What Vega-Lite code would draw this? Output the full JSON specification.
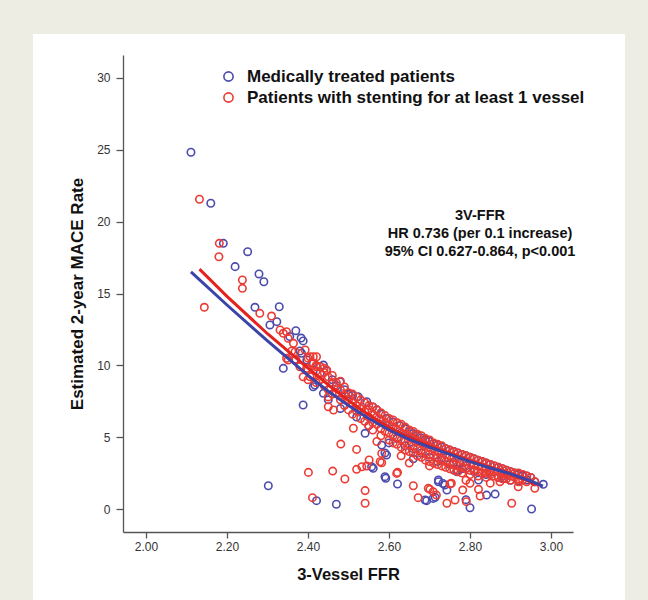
{
"$schema": "https://vega.github.io/schema/vega-lite/v6.json",
"width": 592, "height": 566,
"autosize": "none",
"padding": {"left": 33, "top": 34, "right": 23, "bottom": 0},
"background": "#EDEDE3",
"config": {
  "font": "Liberation Sans",
  "view": {"stroke": null, "fill": "#FFFFFF"},
  "axis": {"grid": false, "domainColor": "#555555", "tickColor": "#555555", "labelColor": "#333333", "labelFontSize": 12, "titleFontWeight": "bold", "titleColor": "#111111", "domainWidth": 1.3, "tickWidth": 1.3}
},
"datasets": {
"fitM": [{"x":2.111,"y":16.5},{"x":2.2,"y":14.2},{"x":2.3,"y":11.7},{"x":2.4,"y":9.3},{"x":2.45,"y":8.2},{"x":2.5,"y":7.2},{"x":2.55,"y":6.3},{"x":2.6,"y":5.5},{"x":2.65,"y":4.85},{"x":2.7,"y":4.3},{"x":2.75,"y":3.8},{"x":2.8,"y":3.3},{"x":2.85,"y":2.85},{"x":2.9,"y":2.45},{"x":2.95,"y":1.95},{"x":2.98,"y":1.6}],
"fitS": [{"x":2.132,"y":16.7},{"x":2.2,"y":14.8},{"x":2.3,"y":12.2},{"x":2.4,"y":9.8},{"x":2.45,"y":8.65},{"x":2.5,"y":7.55},{"x":2.55,"y":6.55},{"x":2.6,"y":5.7},{"x":2.65,"y":4.98},{"x":2.7,"y":4.38},{"x":2.75,"y":3.85},{"x":2.8,"y":3.35},{"x":2.85,"y":2.9},{"x":2.9,"y":2.45},{"x":2.94,"y":2.0},{"x":2.96,"y":1.7}],
"pts": [
{"x":2.111,"y":24.83,"g":"M"},{"x":2.160,"y":21.28,"g":"M"},{"x":2.191,"y":18.49,"g":"M"},{"x":2.251,"y":17.91,"g":"M"},{"x":2.220,"y":16.87,"g":"M"},{"x":2.279,"y":16.36,"g":"M"},{"x":2.291,"y":15.82,"g":"M"},{"x":2.269,"y":14.04,"g":"M"},{"x":2.329,"y":14.08,"g":"M"},{"x":2.306,"y":12.81,"g":"M"},{"x":2.323,"y":13.04,"g":"M"},{"x":2.370,"y":12.41,"g":"M"},{"x":2.383,"y":11.90,"g":"M"},{"x":2.388,"y":11.70,"g":"M"},{"x":2.339,"y":9.79,"g":"M"},{"x":2.367,"y":10.40,"g":"M"},{"x":2.380,"y":11.00,"g":"M"},{"x":2.438,"y":10.02,"g":"M"},{"x":2.417,"y":8.63,"g":"M"},{"x":2.438,"y":8.05,"g":"M"},{"x":2.430,"y":9.45,"g":"M"},{"x":2.384,"y":10.84,"g":"M"},{"x":2.397,"y":10.37,"g":"M"},{"x":2.413,"y":10.14,"g":"M"},{"x":2.430,"y":9.90,"g":"M"},{"x":2.446,"y":9.67,"g":"M"},{"x":2.388,"y":7.24,"g":"M"},{"x":2.413,"y":8.51,"g":"M"},{"x":2.479,"y":8.86,"g":"M"},{"x":2.355,"y":12.0,"g":"M"},{"x":2.302,"y":1.62,"g":"M"},{"x":2.421,"y":0.58,"g":"M"},{"x":2.470,"y":0.33,"g":"M"},
{"x":2.46,"y":9.0,"g":"M"},{"x":2.47,"y":8.6,"g":"M"},{"x":2.49,"y":8.3,"g":"M"},{"x":2.50,"y":8.0,"g":"M"},{"x":2.51,"y":7.9,"g":"M"},{"x":2.524,"y":7.82,"g":"M"},{"x":2.545,"y":7.47,"g":"M"},{"x":2.56,"y":7.1,"g":"M"},{"x":2.57,"y":6.9,"g":"M"},{"x":2.58,"y":6.6,"g":"M"},{"x":2.594,"y":6.3,"g":"M"},{"x":2.61,"y":6.05,"g":"M"},{"x":2.627,"y":5.8,"g":"M"},{"x":2.64,"y":5.6,"g":"M"},{"x":2.65,"y":5.4,"g":"M"},{"x":2.66,"y":5.25,"g":"M"},{"x":2.67,"y":5.1,"g":"M"},{"x":2.68,"y":4.95,"g":"M"},{"x":2.69,"y":4.8,"g":"M"},{"x":2.70,"y":4.7,"g":"M"},{"x":2.71,"y":4.55,"g":"M"},{"x":2.72,"y":4.45,"g":"M"},{"x":2.73,"y":4.3,"g":"M"},{"x":2.74,"y":4.2,"g":"M"},{"x":2.75,"y":4.1,"g":"M"},{"x":2.76,"y":4.0,"g":"M"},{"x":2.77,"y":3.9,"g":"M"},{"x":2.78,"y":3.8,"g":"M"},{"x":2.79,"y":3.7,"g":"M"},{"x":2.80,"y":3.6,"g":"M"},{"x":2.81,"y":3.5,"g":"M"},{"x":2.82,"y":3.4,"g":"M"},{"x":2.83,"y":3.3,"g":"M"},{"x":2.84,"y":3.2,"g":"M"},{"x":2.85,"y":3.1,"g":"M"},{"x":2.86,"y":3.0,"g":"M"},{"x":2.87,"y":2.9,"g":"M"},{"x":2.88,"y":2.8,"g":"M"},{"x":2.89,"y":2.7,"g":"M"},{"x":2.90,"y":2.6,"g":"M"},{"x":2.91,"y":2.5,"g":"M"},{"x":2.92,"y":2.4,"g":"M"},{"x":2.93,"y":2.37,"g":"M"},{"x":2.94,"y":2.3,"g":"M"},{"x":2.95,"y":2.2,"g":"M"},
{"x":2.45,"y":7.6,"g":"M"},{"x":2.48,"y":7.0,"g":"M"},{"x":2.52,"y":6.4,"g":"M"},{"x":2.55,"y":5.8,"g":"M"},{"x":2.60,"y":4.6,"g":"M"},{"x":2.62,"y":4.9,"g":"M"},{"x":2.64,"y":4.4,"g":"M"},{"x":2.66,"y":4.2,"g":"M"},{"x":2.68,"y":3.9,"g":"M"},{"x":2.70,"y":3.6,"g":"M"},{"x":2.72,"y":3.3,"g":"M"},{"x":2.73,"y":3.55,"g":"M"},{"x":2.75,"y":3.1,"g":"M"},{"x":2.76,"y":3.25,"g":"M"},{"x":2.78,"y":2.8,"g":"M"},{"x":2.79,"y":3.0,"g":"M"},{"x":2.81,"y":2.6,"g":"M"},{"x":2.84,"y":2.4,"g":"M"},{"x":2.85,"y":2.55,"g":"M"},{"x":2.87,"y":2.2,"g":"M"},{"x":2.88,"y":2.3,"g":"M"},{"x":2.90,"y":2.0,"g":"M"},{"x":2.92,"y":1.95,"g":"M"},{"x":2.94,"y":2.02,"g":"M"},{"x":2.96,"y":1.9,"g":"M"},
{"x":2.541,"y":5.27,"g":"M"},{"x":2.582,"y":4.45,"g":"M"},{"x":2.594,"y":3.76,"g":"M"},{"x":2.590,"y":3.90,"g":"M"},{"x":2.660,"y":3.50,"g":"M"},{"x":2.557,"y":2.94,"g":"M"},{"x":2.561,"y":2.83,"g":"M"},{"x":2.590,"y":2.25,"g":"M"},{"x":2.592,"y":2.14,"g":"M"},{"x":2.621,"y":1.74,"g":"M"},{"x":2.693,"y":0.58,"g":"M"},{"x":2.714,"y":0.81,"g":"M"},{"x":2.722,"y":1.90,"g":"M"},{"x":2.722,"y":2.02,"g":"M"},{"x":2.733,"y":1.78,"g":"M"},{"x":2.743,"y":1.32,"g":"M"},{"x":2.738,"y":1.67,"g":"M"},{"x":2.709,"y":0.74,"g":"M"},{"x":2.689,"y":0.63,"g":"M"},{"x":2.790,"y":0.65,"g":"M"},{"x":2.800,"y":0.09,"g":"M"},{"x":2.841,"y":0.97,"g":"M"},{"x":2.862,"y":1.04,"g":"M"},{"x":2.952,"y":0.00,"g":"M"},{"x":2.981,"y":1.72,"g":"M"},{"x":2.883,"y":2.14,"g":"M"},{"x":2.770,"y":2.70,"g":"M"},{"x":2.767,"y":2.60,"g":"M"},{"x":2.775,"y":3.18,"g":"M"},{"x":2.821,"y":2.02,"g":"M"},{"x":2.930,"y":2.30,"g":"M"},
{"x":2.132,"y":21.56,"g":"S"},{"x":2.181,"y":18.49,"g":"S"},{"x":2.180,"y":17.56,"g":"S"},{"x":2.238,"y":15.94,"g":"S"},{"x":2.238,"y":15.36,"g":"S"},{"x":2.144,"y":14.04,"g":"S"},{"x":2.281,"y":13.62,"g":"S"},{"x":2.310,"y":13.43,"g":"S"},{"x":2.331,"y":12.46,"g":"S"},{"x":2.347,"y":12.34,"g":"S"},{"x":2.339,"y":12.23,"g":"S"},{"x":2.351,"y":11.88,"g":"S"},{"x":2.364,"y":11.53,"g":"S"},{"x":2.368,"y":10.95,"g":"S"},{"x":2.393,"y":11.07,"g":"S"},{"x":2.347,"y":10.49,"g":"S"},{"x":2.351,"y":10.37,"g":"S"},{"x":2.405,"y":10.60,"g":"S"},{"x":2.413,"y":10.60,"g":"S"},{"x":2.421,"y":10.60,"g":"S"},{"x":2.421,"y":9.90,"g":"S"},{"x":2.397,"y":9.79,"g":"S"},{"x":2.405,"y":9.21,"g":"S"},{"x":2.388,"y":9.20,"g":"S"},{"x":2.446,"y":9.67,"g":"S"},{"x":2.36,"y":11.0,"g":"S"},{"x":2.37,"y":10.4,"g":"S"},{"x":2.38,"y":9.9,"g":"S"},
{"x":2.401,"y":2.55,"g":"S"},{"x":2.411,"y":0.79,"g":"S"},{"x":2.461,"y":2.64,"g":"S"},{"x":2.491,"y":2.09,"g":"S"},{"x":2.481,"y":4.52,"g":"S"},{"x":2.520,"y":4.15,"g":"S"},{"x":2.520,"y":2.76,"g":"S"},{"x":2.533,"y":2.94,"g":"S"},{"x":2.545,"y":2.99,"g":"S"},{"x":2.551,"y":3.41,"g":"S"},{"x":2.541,"y":1.28,"g":"S"},{"x":2.541,"y":0.40,"g":"S"},{"x":2.582,"y":3.87,"g":"S"},{"x":2.582,"y":3.22,"g":"S"},{"x":2.621,"y":2.55,"g":"S"},{"x":2.660,"y":1.62,"g":"S"},{"x":2.672,"y":0.79,"g":"S"},{"x":2.701,"y":1.37,"g":"S"},{"x":2.709,"y":1.20,"g":"S"},{"x":2.717,"y":0.97,"g":"S"},{"x":2.700,"y":3.00,"g":"S"},{"x":2.743,"y":0.40,"g":"S"},{"x":2.751,"y":1.74,"g":"S"},{"x":2.754,"y":1.79,"g":"S"},{"x":2.763,"y":0.63,"g":"S"},{"x":2.782,"y":1.32,"g":"S"},{"x":2.791,"y":0.51,"g":"S"},{"x":2.800,"y":1.79,"g":"S"},{"x":2.821,"y":1.37,"g":"S"},{"x":2.825,"y":0.90,"g":"S"},{"x":2.903,"y":0.40,"g":"S"},{"x":2.960,"y":1.44,"g":"S"},{"x":2.919,"y":1.55,"g":"S"},{"x":2.450,"y":7.12,"g":"S"},{"x":2.463,"y":6.89,"g":"S"},{"x":2.512,"y":5.62,"g":"S"},{"x":2.578,"y":3.29,"g":"S"},{"x":2.619,"y":2.48,"g":"S"},{"x":2.874,"y":1.90,"g":"S"},{"x":2.697,"y":1.44,"g":"S"},{"x":2.630,"y":3.70,"g":"S"},{"x":2.650,"y":3.20,"g":"S"},{"x":2.57,"y":4.7,"g":"S"},{"x":2.79,"y":2.0,"g":"S"},{"x":2.85,"y":1.8,"g":"S"},
{"x":2.40,"y":10.5,"g":"S"},{"x":2.40,"y":9.7,"g":"S"},{"x":2.40,"y":9.0,"g":"S"},{"x":2.41,"y":10.2,"g":"S"},{"x":2.41,"y":9.3,"g":"S"},{"x":2.42,"y":10.0,"g":"S"},{"x":2.42,"y":9.6,"g":"S"},{"x":2.42,"y":8.8,"g":"S"},{"x":2.43,"y":9.9,"g":"S"},{"x":2.43,"y":9.0,"g":"S"},{"x":2.44,"y":9.5,"g":"S"},{"x":2.44,"y":8.6,"g":"S"},{"x":2.44,"y":9.8,"g":"S"},{"x":2.45,"y":9.2,"g":"S"},{"x":2.45,"y":8.3,"g":"S"},{"x":2.45,"y":7.8,"g":"S"},{"x":2.46,"y":9.3,"g":"S"},{"x":2.46,"y":8.7,"g":"S"},{"x":2.46,"y":8.0,"g":"S"},{"x":2.47,"y":8.8,"g":"S"},{"x":2.47,"y":8.1,"g":"S"},{"x":2.48,"y":8.9,"g":"S"},{"x":2.48,"y":8.3,"g":"S"},{"x":2.48,"y":7.6,"g":"S"},{"x":2.49,"y":8.5,"g":"S"},{"x":2.49,"y":7.9,"g":"S"},{"x":2.49,"y":7.2,"g":"S"},{"x":2.50,"y":8.1,"g":"S"},{"x":2.50,"y":7.6,"g":"S"},{"x":2.50,"y":6.9,"g":"S"},{"x":2.51,"y":8.0,"g":"S"},{"x":2.51,"y":7.4,"g":"S"},{"x":2.51,"y":6.6,"g":"S"},{"x":2.52,"y":7.8,"g":"S"},{"x":2.52,"y":7.2,"g":"S"},{"x":2.52,"y":6.8,"g":"S"},{"x":2.53,"y":7.6,"g":"S"},{"x":2.53,"y":7.0,"g":"S"},{"x":2.53,"y":6.3,"g":"S"},{"x":2.54,"y":7.4,"g":"S"},{"x":2.54,"y":6.8,"g":"S"},{"x":2.54,"y":6.1,"g":"S"},{"x":2.55,"y":7.2,"g":"S"},{"x":2.55,"y":6.9,"g":"S"},{"x":2.55,"y":6.4,"g":"S"},{"x":2.55,"y":5.8,"g":"S"},{"x":2.56,"y":7.1,"g":"S"},{"x":2.56,"y":6.6,"g":"S"},{"x":2.56,"y":6.0,"g":"S"},{"x":2.56,"y":5.5,"g":"S"},{"x":2.57,"y":6.9,"g":"S"},{"x":2.57,"y":6.4,"g":"S"},{"x":2.57,"y":5.9,"g":"S"},{"x":2.58,"y":6.7,"g":"S"},{"x":2.58,"y":6.2,"g":"S"},{"x":2.58,"y":5.6,"g":"S"},{"x":2.58,"y":5.1,"g":"S"},{"x":2.59,"y":6.5,"g":"S"},{"x":2.59,"y":6.0,"g":"S"},{"x":2.59,"y":5.4,"g":"S"},{"x":2.60,"y":6.3,"g":"S"},{"x":2.60,"y":5.8,"g":"S"},{"x":2.60,"y":5.3,"g":"S"},{"x":2.60,"y":4.8,"g":"S"},{"x":2.61,"y":6.2,"g":"S"},{"x":2.61,"y":5.7,"g":"S"},{"x":2.61,"y":5.1,"g":"S"},{"x":2.61,"y":4.6,"g":"S"},{"x":2.62,"y":6.0,"g":"S"},{"x":2.62,"y":5.5,"g":"S"},{"x":2.62,"y":5.0,"g":"S"},{"x":2.62,"y":4.5,"g":"S"},{"x":2.63,"y":5.9,"g":"S"},{"x":2.63,"y":5.3,"g":"S"},{"x":2.63,"y":4.8,"g":"S"},{"x":2.63,"y":4.3,"g":"S"},{"x":2.64,"y":5.7,"g":"S"},{"x":2.64,"y":5.2,"g":"S"},{"x":2.64,"y":4.7,"g":"S"},{"x":2.64,"y":4.1,"g":"S"},{"x":2.65,"y":5.5,"g":"S"},{"x":2.65,"y":5.0,"g":"S"},{"x":2.65,"y":4.5,"g":"S"},{"x":2.65,"y":4.0,"g":"S"},{"x":2.66,"y":5.4,"g":"S"},{"x":2.66,"y":4.9,"g":"S"},{"x":2.66,"y":4.4,"g":"S"},{"x":2.66,"y":3.9,"g":"S"},{"x":2.67,"y":5.2,"g":"S"},{"x":2.67,"y":4.7,"g":"S"},{"x":2.67,"y":4.2,"g":"S"},{"x":2.67,"y":3.7,"g":"S"},{"x":2.68,"y":5.1,"g":"S"},{"x":2.68,"y":4.6,"g":"S"},{"x":2.68,"y":4.1,"g":"S"},{"x":2.68,"y":3.6,"g":"S"},{"x":2.69,"y":4.9,"g":"S"},{"x":2.69,"y":4.4,"g":"S"},{"x":2.69,"y":3.9,"g":"S"},{"x":2.69,"y":3.4,"g":"S"},{"x":2.70,"y":4.8,"g":"S"},{"x":2.70,"y":4.3,"g":"S"},{"x":2.70,"y":3.8,"g":"S"},{"x":2.70,"y":3.3,"g":"S"},{"x":2.71,"y":4.6,"g":"S"},{"x":2.71,"y":4.2,"g":"S"},{"x":2.71,"y":3.7,"g":"S"},{"x":2.71,"y":3.2,"g":"S"},{"x":2.72,"y":4.5,"g":"S"},{"x":2.72,"y":4.0,"g":"S"},{"x":2.72,"y":3.6,"g":"S"},{"x":2.72,"y":3.1,"g":"S"},{"x":2.73,"y":4.4,"g":"S"},{"x":2.73,"y":3.9,"g":"S"},{"x":2.73,"y":3.4,"g":"S"},{"x":2.73,"y":3.0,"g":"S"},{"x":2.74,"y":4.2,"g":"S"},{"x":2.74,"y":3.8,"g":"S"},{"x":2.74,"y":3.3,"g":"S"},{"x":2.74,"y":2.9,"g":"S"},{"x":2.75,"y":4.1,"g":"S"},{"x":2.75,"y":3.7,"g":"S"},{"x":2.75,"y":3.2,"g":"S"},{"x":2.75,"y":2.8,"g":"S"},{"x":2.76,"y":4.0,"g":"S"},{"x":2.76,"y":3.6,"g":"S"},{"x":2.76,"y":3.1,"g":"S"},{"x":2.76,"y":2.7,"g":"S"},{"x":2.77,"y":3.9,"g":"S"},{"x":2.77,"y":3.5,"g":"S"},{"x":2.77,"y":3.0,"g":"S"},{"x":2.77,"y":2.6,"g":"S"},{"x":2.78,"y":3.8,"g":"S"},{"x":2.78,"y":3.4,"g":"S"},{"x":2.78,"y":2.9,"g":"S"},{"x":2.78,"y":2.5,"g":"S"},{"x":2.79,"y":3.7,"g":"S"},{"x":2.79,"y":3.3,"g":"S"},{"x":2.79,"y":2.8,"g":"S"},{"x":2.80,"y":3.6,"g":"S"},{"x":2.80,"y":3.2,"g":"S"},{"x":2.80,"y":2.7,"g":"S"},{"x":2.80,"y":2.4,"g":"S"},{"x":2.81,"y":3.5,"g":"S"},{"x":2.81,"y":3.1,"g":"S"},{"x":2.81,"y":2.7,"g":"S"},{"x":2.82,"y":3.4,"g":"S"},{"x":2.82,"y":3.0,"g":"S"},{"x":2.82,"y":2.6,"g":"S"},{"x":2.82,"y":2.3,"g":"S"},{"x":2.83,"y":3.3,"g":"S"},{"x":2.83,"y":2.9,"g":"S"},{"x":2.83,"y":2.5,"g":"S"},{"x":2.84,"y":3.2,"g":"S"},{"x":2.84,"y":2.8,"g":"S"},{"x":2.84,"y":2.5,"g":"S"},{"x":2.84,"y":2.2,"g":"S"},{"x":2.85,"y":3.1,"g":"S"},{"x":2.85,"y":2.7,"g":"S"},{"x":2.85,"y":2.4,"g":"S"},{"x":2.86,"y":3.0,"g":"S"},{"x":2.86,"y":2.6,"g":"S"},{"x":2.86,"y":2.3,"g":"S"},{"x":2.87,"y":2.9,"g":"S"},{"x":2.87,"y":2.6,"g":"S"},{"x":2.87,"y":2.2,"g":"S"},{"x":2.88,"y":2.8,"g":"S"},{"x":2.88,"y":2.5,"g":"S"},{"x":2.88,"y":2.1,"g":"S"},{"x":2.89,"y":2.7,"g":"S"},{"x":2.89,"y":2.4,"g":"S"},{"x":2.89,"y":2.1,"g":"S"},{"x":2.90,"y":2.6,"g":"S"},{"x":2.90,"y":2.3,"g":"S"},{"x":2.90,"y":2.0,"g":"S"},{"x":2.91,"y":2.5,"g":"S"},{"x":2.91,"y":2.2,"g":"S"},{"x":2.92,"y":2.5,"g":"S"},{"x":2.92,"y":2.1,"g":"S"},{"x":2.92,"y":1.9,"g":"S"},{"x":2.93,"y":2.4,"g":"S"},{"x":2.93,"y":2.0,"g":"S"},{"x":2.94,"y":2.3,"g":"S"},{"x":2.94,"y":1.9,"g":"S"},{"x":2.95,"y":2.2,"g":"S"},{"x":2.96,"y":1.9,"g":"S"}
]
},
"encoding": {
  "x": {"field": "x", "type": "quantitative", "title": "3-Vessel FFR",
        "scale": {"domain": [1.9432, 3.0543], "range": [90, 540], "nice": false, "zero": false},
        "axis": {"values": [2, 2.2, 2.4, 2.6, 2.8, 3.0], "format": ".2f", "tickSize": 6, "labelPadding": 3, "titlePadding": 14, "titleFontSize": 16.5, "offset": -68}},
  "y": {"field": "y", "type": "quantitative", "title": "Estimated 2-year MACE Rate",
        "scale": {"domain": [-1.6, 31.6], "range": [498, 21], "nice": false, "zero": false},
        "axis": {"values": [0, 5, 10, 15, 20, 25, 30], "tickSize": 7, "labelPadding": 6, "titlePadding": 10, "titleFontSize": 17, "offset": -90}}
},
"layer": [
{"data": {"name": "pts"}, "mark": {"type": "point", "shape": "circle", "filled": false, "size": 55, "strokeWidth": 1.6, "opacity": 1},
 "encoding": {
  "color": {"field": "g", "type": "nominal", "scale": {"domain": ["M", "S"], "range": ["#4B4BAE", "#EC3B33"]},
        "legend": {"title": null, "orient": "none", "legendX": 187, "legendY": 34, "padding": 0, "labelFontSize": 17, "labelFontWeight": "bold", "labelColor": "#111111", "labelLimit": 0, "symbolType": "circle", "symbolSize": 85, "symbolStrokeWidth": 1.6, "labelOffset": 10, "rowPadding": 3,
                   "labelExpr": "datum.label == 'M' ? 'Medically treated patients' : 'Patients with stenting for at least 1 vessel'"}}
 }},
{"data": {"name": "fitS"}, "mark": {"type": "line", "color": "#E4231E", "strokeWidth": 3}, "encoding": {}},
{"data": {"name": "fitM"}, "mark": {"type": "line", "color": "#3B44A8", "strokeWidth": 3}, "encoding": {}},
{"data": {"values": [{"x": 2.8247, "y": 20.39}]}, "mark": {"type": "text", "text": ["3V-FFR", "HR 0.736 (per 0.1 increase)", "95% CI 0.627-0.864, p<0.001"], "fontSize": 14.5, "fontWeight": "bold", "lineHeight": 18, "align": "center", "baseline": "middle", "color": "#111111"}, "encoding": {}}
]
}
